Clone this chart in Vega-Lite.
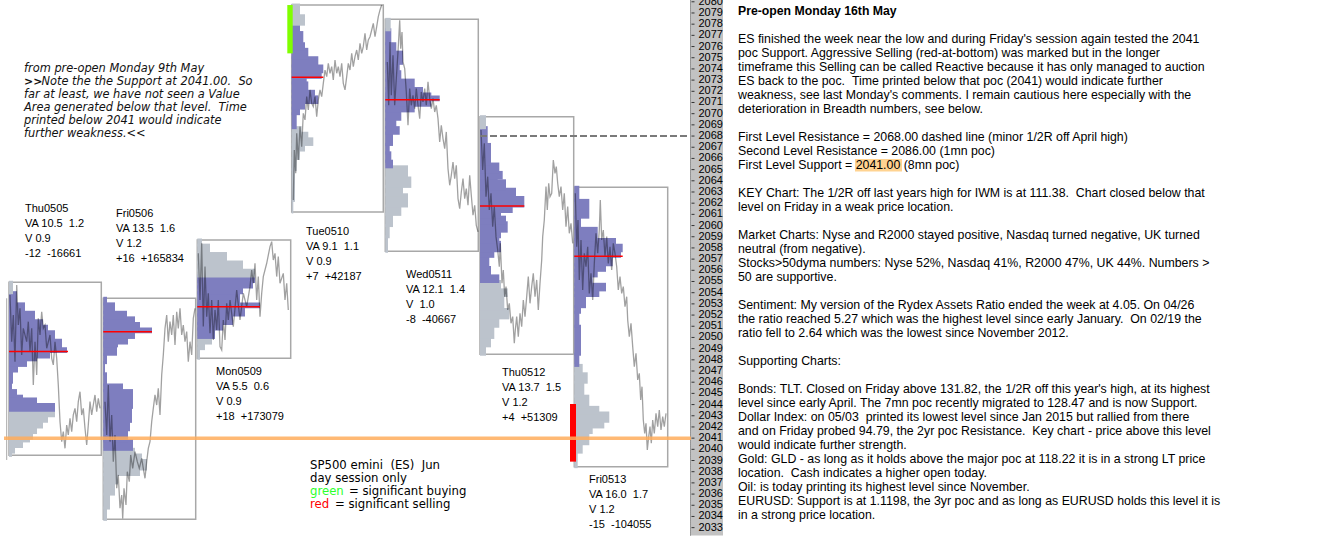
{
"$schema":"https://vega.github.io/schema/vega-lite/v6.json",
"width":1318,"height":547,
"autosize":{"type":"none"},
"padding":0,
"background":"white",
"config":{"view":{"stroke":null},"axis":{"disable":true}},
"datasets":{
"days":[
{"d":"Thu0505","x0":9,"x1":101.3,"lo":2039.46,"hi":2054.93,"poc":2048.75,"pocx":68},
{"d":"Fri0506","x0":103.3,"x1":195.7,"lo":2033.74,"hi":2053.5,"poc":2050.5,"pocx":152},
{"d":"Mon0509","x0":197.3,"x1":290.7,"lo":2048.14,"hi":2058.71,"poc":2052.75,"pocx":260},
{"d":"Tue0510","x0":291.7,"x1":383.3,"lo":2061.21,"hi":2079.71,"poc":2073.25,"pocx":323.3},
{"d":"Wed0511","x0":385.3,"x1":478.3,"lo":2057.7,"hi":2078.43,"poc":2071.25,"pocx":439.7},
{"d":"Thu0512","x0":480,"x1":573.7,"lo":2048.5,"hi":2069.73,"poc":2061.75,"pocx":524.3},
{"d":"Fri0513","x0":574.3,"x1":667.7,"lo":2038.45,"hi":2063.42,"poc":2057.25,"pocx":622.7}
],
"prof":[
{"va":"out","x0":9,"lo":2039.46,"hi":2039.75,"x1":12},{"va":"out","x0":9,"lo":2039.75,"hi":2040.25,"x1":15},{"va":"out","x0":9,"lo":2040.25,"hi":2040.75,"x1":23},{"va":"out","x0":9,"lo":2040.75,"hi":2041.0,"x1":30},{"va":"out","x0":9,"lo":2041.0,"hi":2041.5,"x1":33},{"va":"out","x0":9,"lo":2041.5,"hi":2042.0,"x1":37},{"va":"out","x0":9,"lo":2042.0,"hi":2042.5,"x1":43},{"va":"out","x0":9,"lo":2042.5,"hi":2043.0,"x1":48},{"va":"out","x0":9,"lo":2043.0,"hi":2043.5,"x1":55},
{"va":"in","x0":9,"lo":2043.5,"hi":2044.0,"x1":55},{"va":"in","x0":9,"lo":2044.0,"hi":2044.5,"x1":37},{"va":"in","x0":9,"lo":2044.5,"hi":2044.75,"x1":23},{"va":"in","x0":9,"lo":2044.75,"hi":2045.25,"x1":17},{"va":"in","x0":9,"lo":2045.25,"hi":2046.0,"x1":12},{"va":"in","x0":9,"lo":2046.0,"hi":2047.0,"x1":13},{"va":"in","x0":9,"lo":2047.0,"hi":2047.5,"x1":18},{"va":"in","x0":9,"lo":2047.5,"hi":2048.0,"x1":27},{"va":"in","x0":9,"lo":2048.0,"hi":2048.25,"x1":37},{"va":"in","x0":9,"lo":2048.25,"hi":2048.75,"x1":50},{"va":"in","x0":9,"lo":2048.75,"hi":2049.0,"x1":67},{"va":"in","x0":9,"lo":2049.0,"hi":2049.75,"x1":62},{"va":"in","x0":9,"lo":2049.75,"hi":2050.5,"x1":55},{"va":"in","x0":9,"lo":2050.5,"hi":2051.0,"x1":48},{"va":"in","x0":9,"lo":2051.0,"hi":2051.5,"x1":43},{"va":"in","x0":9,"lo":2051.5,"hi":2052.25,"x1":35},{"va":"in","x0":9,"lo":2052.25,"hi":2053.0,"x1":25},{"va":"in","x0":9,"lo":2053.0,"hi":2054.0,"x1":17},
{"va":"out","x0":9,"lo":2054.0,"hi":2054.93,"x1":13},
{"va":"out","x0":103.3,"lo":2033.74,"hi":2034.75,"x1":107},{"va":"out","x0":103.3,"lo":2034.75,"hi":2036.0,"x1":110},{"va":"out","x0":103.3,"lo":2036.0,"hi":2037.0,"x1":115},{"va":"out","x0":103.3,"lo":2037.0,"hi":2037.75,"x1":118},{"va":"out","x0":103.3,"lo":2037.75,"hi":2038.25,"x1":140},{"va":"out","x0":103.3,"lo":2038.25,"hi":2039.0,"x1":147},{"va":"out","x0":103.3,"lo":2039.0,"hi":2039.5,"x1":142},{"va":"out","x0":103.3,"lo":2039.5,"hi":2040.0,"x1":135},
{"va":"in","x0":103.3,"lo":2040.0,"hi":2040.75,"x1":133},{"va":"in","x0":103.3,"lo":2040.75,"hi":2041.75,"x1":128},{"va":"in","x0":103.3,"lo":2041.75,"hi":2042.5,"x1":130},{"va":"in","x0":103.3,"lo":2042.5,"hi":2043.75,"x1":132},{"va":"in","x0":103.3,"lo":2043.75,"hi":2045.25,"x1":133},{"va":"in","x0":103.3,"lo":2045.25,"hi":2045.75,"x1":123},{"va":"in","x0":103.3,"lo":2045.75,"hi":2046.75,"x1":107},{"va":"in","x0":103.3,"lo":2046.75,"hi":2047.75,"x1":105},{"va":"in","x0":103.3,"lo":2047.75,"hi":2048.5,"x1":107},{"va":"in","x0":103.3,"lo":2048.5,"hi":2049.25,"x1":117},{"va":"in","x0":103.3,"lo":2049.25,"hi":2049.5,"x1":118},{"va":"in","x0":103.3,"lo":2049.5,"hi":2050.0,"x1":128},{"va":"in","x0":103.3,"lo":2050.0,"hi":2050.5,"x1":135},{"va":"in","x0":103.3,"lo":2050.5,"hi":2050.75,"x1":152},{"va":"in","x0":103.3,"lo":2050.75,"hi":2051.25,"x1":140},{"va":"in","x0":103.3,"lo":2051.25,"hi":2051.75,"x1":135},{"va":"in","x0":103.3,"lo":2051.75,"hi":2052.25,"x1":127},{"va":"in","x0":103.3,"lo":2052.25,"hi":2053.0,"x1":115},{"va":"in","x0":103.3,"lo":2053.0,"hi":2053.5,"x1":107},
{"va":"out","x0":197.3,"lo":2048.14,"hi":2049.0,"x1":200},{"va":"out","x0":197.3,"lo":2049.0,"hi":2049.5,"x1":205},{"va":"out","x0":197.3,"lo":2049.5,"hi":2050.0,"x1":212},
{"va":"in","x0":197.3,"lo":2050.0,"hi":2050.75,"x1":215},{"va":"in","x0":197.3,"lo":2050.75,"hi":2051.25,"x1":223},{"va":"in","x0":197.3,"lo":2051.25,"hi":2052.0,"x1":233},{"va":"in","x0":197.3,"lo":2052.0,"hi":2052.75,"x1":245},{"va":"in","x0":197.3,"lo":2052.75,"hi":2053.0,"x1":260},{"va":"in","x0":197.3,"lo":2053.0,"hi":2054.0,"x1":240},{"va":"in","x0":197.3,"lo":2054.0,"hi":2054.5,"x1":243},{"va":"in","x0":197.3,"lo":2054.5,"hi":2055.0,"x1":253},{"va":"in","x0":197.3,"lo":2055.0,"hi":2055.5,"x1":255},
{"va":"out","x0":197.3,"lo":2055.5,"hi":2056.0,"x1":255},{"va":"out","x0":197.3,"lo":2056.0,"hi":2056.75,"x1":243},{"va":"out","x0":197.3,"lo":2056.75,"hi":2057.5,"x1":227},{"va":"out","x0":197.3,"lo":2057.5,"hi":2058.25,"x1":210},{"va":"out","x0":197.3,"lo":2058.25,"hi":2058.71,"x1":202},
{"va":"out","x0":291.7,"lo":2061.21,"hi":2062.25,"x1":293.3},{"va":"out","x0":291.7,"lo":2062.25,"hi":2065.0,"x1":295},{"va":"out","x0":291.7,"lo":2065.0,"hi":2066.0,"x1":296.7},{"va":"out","x0":291.7,"lo":2066.0,"hi":2066.75,"x1":300},{"va":"out","x0":291.7,"lo":2066.75,"hi":2067.25,"x1":305},{"va":"out","x0":291.7,"lo":2067.25,"hi":2067.75,"x1":313.3},{"va":"out","x0":291.7,"lo":2067.75,"hi":2068.25,"x1":308.3},{"va":"out","x0":291.7,"lo":2068.25,"hi":2068.75,"x1":301.7},
{"va":"in","x0":291.7,"lo":2068.75,"hi":2070.0,"x1":296.7},{"va":"in","x0":291.7,"lo":2070.0,"hi":2070.5,"x1":300},{"va":"in","x0":291.7,"lo":2070.5,"hi":2071.0,"x1":305},{"va":"in","x0":291.7,"lo":2071.0,"hi":2071.5,"x1":318.3},{"va":"in","x0":291.7,"lo":2071.5,"hi":2072.0,"x1":315},{"va":"in","x0":291.7,"lo":2072.0,"hi":2072.75,"x1":308.3},{"va":"in","x0":291.7,"lo":2072.75,"hi":2073.25,"x1":306.7},{"va":"in","x0":291.7,"lo":2073.25,"hi":2073.75,"x1":321.7},{"va":"in","x0":291.7,"lo":2073.75,"hi":2074.25,"x1":323.3},{"va":"in","x0":291.7,"lo":2074.25,"hi":2075.0,"x1":318.3},{"va":"in","x0":291.7,"lo":2075.0,"hi":2075.75,"x1":308.3},{"va":"in","x0":291.7,"lo":2075.75,"hi":2076.25,"x1":305},{"va":"in","x0":291.7,"lo":2076.25,"hi":2077.25,"x1":303.3},{"va":"in","x0":291.7,"lo":2077.25,"hi":2078.0,"x1":300},
{"va":"out","x0":291.7,"lo":2078.0,"hi":2078.75,"x1":305},{"va":"out","x0":291.7,"lo":2078.75,"hi":2079.71,"x1":300},
{"va":"out","x0":385.3,"lo":2057.7,"hi":2059.0,"x1":388},{"va":"out","x0":385.3,"lo":2059.0,"hi":2060.0,"x1":389.7},{"va":"out","x0":385.3,"lo":2060.0,"hi":2061.0,"x1":393},{"va":"out","x0":385.3,"lo":2061.0,"hi":2061.75,"x1":401.3},{"va":"out","x0":385.3,"lo":2061.75,"hi":2062.75,"x1":408},{"va":"out","x0":385.3,"lo":2062.75,"hi":2063.5,"x1":403},{"va":"out","x0":385.3,"lo":2063.5,"hi":2064.25,"x1":411.3},{"va":"out","x0":385.3,"lo":2064.25,"hi":2065.25,"x1":408},
{"va":"in","x0":385.3,"lo":2065.25,"hi":2065.75,"x1":393},{"va":"in","x0":385.3,"lo":2065.75,"hi":2066.5,"x1":391.3},{"va":"in","x0":385.3,"lo":2066.5,"hi":2067.25,"x1":389.7},{"va":"in","x0":385.3,"lo":2067.25,"hi":2068.25,"x1":393},{"va":"in","x0":385.3,"lo":2068.25,"hi":2068.75,"x1":399.7},{"va":"in","x0":385.3,"lo":2068.75,"hi":2069.5,"x1":396.3},{"va":"in","x0":385.3,"lo":2069.5,"hi":2070.25,"x1":401.3},{"va":"in","x0":385.3,"lo":2070.25,"hi":2070.75,"x1":414.7},{"va":"in","x0":385.3,"lo":2070.75,"hi":2071.25,"x1":431.3},{"va":"in","x0":385.3,"lo":2071.25,"hi":2071.5,"x1":439.7},{"va":"in","x0":385.3,"lo":2071.5,"hi":2071.75,"x1":431.3},{"va":"in","x0":385.3,"lo":2071.75,"hi":2072.25,"x1":423},{"va":"in","x0":385.3,"lo":2072.25,"hi":2073.0,"x1":414.7},{"va":"in","x0":385.3,"lo":2073.0,"hi":2073.75,"x1":401.3},{"va":"in","x0":385.3,"lo":2073.75,"hi":2074.5,"x1":399.7},{"va":"in","x0":385.3,"lo":2074.5,"hi":2075.5,"x1":403},{"va":"in","x0":385.3,"lo":2075.5,"hi":2076.25,"x1":396.3},{"va":"in","x0":385.3,"lo":2076.25,"hi":2077.5,"x1":391.3},
{"va":"out","x0":385.3,"lo":2077.5,"hi":2078.43,"x1":390.7},
{"va":"out","x0":480,"lo":2048.5,"hi":2049.25,"x1":486},{"va":"out","x0":480,"lo":2049.25,"hi":2050.0,"x1":491},{"va":"out","x0":480,"lo":2050.0,"hi":2051.0,"x1":494.3},{"va":"out","x0":480,"lo":2051.0,"hi":2051.75,"x1":499.3},{"va":"out","x0":480,"lo":2051.75,"hi":2052.5,"x1":509.3},{"va":"out","x0":480,"lo":2052.5,"hi":2053.75,"x1":504.3},{"va":"out","x0":480,"lo":2053.75,"hi":2054.25,"x1":507.7},{"va":"out","x0":480,"lo":2054.25,"hi":2055.0,"x1":501},
{"va":"in","x0":480,"lo":2055.0,"hi":2055.5,"x1":499.3},{"va":"in","x0":480,"lo":2055.5,"hi":2056.25,"x1":491},{"va":"in","x0":480,"lo":2056.25,"hi":2057.25,"x1":489.3},{"va":"in","x0":480,"lo":2057.25,"hi":2057.75,"x1":494.3},{"va":"in","x0":480,"lo":2057.75,"hi":2058.5,"x1":501},{"va":"in","x0":480,"lo":2058.5,"hi":2059.0,"x1":499.3},{"va":"in","x0":480,"lo":2059.0,"hi":2059.5,"x1":501},{"va":"in","x0":480,"lo":2059.5,"hi":2060.25,"x1":507.7},{"va":"in","x0":480,"lo":2060.25,"hi":2060.75,"x1":506},{"va":"in","x0":480,"lo":2060.75,"hi":2061.25,"x1":501},{"va":"in","x0":480,"lo":2061.25,"hi":2061.75,"x1":512.7},{"va":"in","x0":480,"lo":2061.75,"hi":2062.5,"x1":524.3},{"va":"in","x0":480,"lo":2062.5,"hi":2063.25,"x1":516},{"va":"in","x0":480,"lo":2063.25,"hi":2064.0,"x1":506},{"va":"in","x0":480,"lo":2064.0,"hi":2064.25,"x1":497.7},{"va":"in","x0":480,"lo":2064.25,"hi":2064.75,"x1":502.7},{"va":"in","x0":480,"lo":2064.75,"hi":2065.5,"x1":499.3},{"va":"in","x0":480,"lo":2065.5,"hi":2067.25,"x1":491},{"va":"in","x0":480,"lo":2067.25,"hi":2068.75,"x1":487.7},
{"va":"out","x0":480,"lo":2068.75,"hi":2069.73,"x1":486},
{"va":"out","x0":574.3,"lo":2038.45,"hi":2039.75,"x1":577.7},{"va":"out","x0":574.3,"lo":2039.75,"hi":2040.5,"x1":582.7},{"va":"out","x0":574.3,"lo":2040.5,"hi":2041.5,"x1":589.3},{"va":"out","x0":574.3,"lo":2041.5,"hi":2042.0,"x1":592.7},{"va":"out","x0":574.3,"lo":2042.0,"hi":2042.5,"x1":604.3},{"va":"out","x0":574.3,"lo":2042.5,"hi":2043.25,"x1":609.3},{"va":"out","x0":574.3,"lo":2043.25,"hi":2043.75,"x1":599.3},{"va":"out","x0":574.3,"lo":2043.75,"hi":2044.75,"x1":589.3},{"va":"out","x0":574.3,"lo":2044.75,"hi":2046.0,"x1":584.3},{"va":"out","x0":574.3,"lo":2046.0,"hi":2046.75,"x1":587.7},{"va":"out","x0":574.3,"lo":2046.75,"hi":2047.5,"x1":582.7},
{"va":"in","x0":574.3,"lo":2047.5,"hi":2048.5,"x1":579.3},{"va":"in","x0":574.3,"lo":2048.5,"hi":2051.0,"x1":581},{"va":"in","x0":574.3,"lo":2051.0,"hi":2052.25,"x1":579.3},{"va":"in","x0":574.3,"lo":2052.25,"hi":2052.75,"x1":581},{"va":"in","x0":574.3,"lo":2052.75,"hi":2053.75,"x1":586},{"va":"in","x0":574.3,"lo":2053.75,"hi":2054.25,"x1":599.3},{"va":"in","x0":574.3,"lo":2054.25,"hi":2054.75,"x1":606},{"va":"in","x0":574.3,"lo":2054.75,"hi":2055.5,"x1":592.7},{"va":"in","x0":574.3,"lo":2055.5,"hi":2056.0,"x1":597.7},{"va":"in","x0":574.3,"lo":2056.0,"hi":2056.5,"x1":606},{"va":"in","x0":574.3,"lo":2056.5,"hi":2057.25,"x1":612.7},{"va":"in","x0":574.3,"lo":2057.25,"hi":2057.75,"x1":621},{"va":"in","x0":574.3,"lo":2057.75,"hi":2058.25,"x1":622.7},{"va":"in","x0":574.3,"lo":2058.25,"hi":2058.75,"x1":616},{"va":"in","x0":574.3,"lo":2058.75,"hi":2059.75,"x1":597.7},{"va":"in","x0":574.3,"lo":2059.75,"hi":2060.75,"x1":581},{"va":"in","x0":574.3,"lo":2060.75,"hi":2062.25,"x1":589.3},{"va":"in","x0":574.3,"lo":2062.25,"hi":2063.42,"x1":579.3}
],
"trace":[
{"d":"Thu0505","x":10,"p":2053.79},{"d":"Thu0505","x":11.7,"p":2049.62},{"d":"Thu0505","x":13.3,"p":2052.0},{"d":"Thu0505","x":15,"p":2047.83},{"d":"Thu0505","x":16.7,"p":2054.69},{"d":"Thu0505","x":18.3,"p":2051.11},{"d":"Thu0505","x":20,"p":2052.6},{"d":"Thu0505","x":21.7,"p":2048.43},{"d":"Thu0505","x":23.3,"p":2050.81},{"d":"Thu0505","x":26.7,"p":2049.62},{"d":"Thu0505","x":28.3,"p":2051.41},{"d":"Thu0505","x":30,"p":2048.73},{"d":"Thu0505","x":31.7,"p":2050.81},{"d":"Thu0505","x":33.3,"p":2045.75},{"d":"Thu0505","x":35,"p":2049.62},{"d":"Thu0505","x":36.7,"p":2046.64},{"d":"Thu0505","x":38.3,"p":2051.71},{"d":"Thu0505","x":40,"p":2050.22},{"d":"Thu0505","x":41.7,"p":2052.3},{"d":"Thu0505","x":43.3,"p":2050.81},{"d":"Thu0505","x":45,"p":2051.11},{"d":"Thu0505","x":46.7,"p":2049.03},{"d":"Thu0505","x":50,"p":2050.22},{"d":"Thu0505","x":51.7,"p":2048.13},{"d":"Thu0505","x":53.3,"p":2047.54},{"d":"Thu0505","x":55,"p":2049.62},{"d":"Thu0505","x":56.7,"p":2048.13},{"d":"Thu0505","x":58.3,"p":2045.75},{"d":"Thu0505","x":60,"p":2042.47},{"d":"Thu0505","x":61.7,"p":2040.69},{"d":"Thu0505","x":63.3,"p":2041.58},{"d":"Thu0505","x":65,"p":2040.09},{"d":"Thu0505","x":66.7,"p":2042.17},{"d":"Thu0505","x":68.3,"p":2041.28},{"d":"Thu0505","x":70,"p":2042.77},{"d":"Thu0505","x":71.7,"p":2041.58},{"d":"Thu0505","x":73.3,"p":2043.07},{"d":"Thu0505","x":75,"p":2043.66},{"d":"Thu0505","x":76.7,"p":2042.47},{"d":"Thu0505","x":78.3,"p":2044.26},{"d":"Thu0505","x":80,"p":2045.15},{"d":"Thu0505","x":81.7,"p":2043.07},{"d":"Thu0505","x":83.3,"p":2043.66},{"d":"Thu0505","x":85,"p":2041.88},{"d":"Thu0505","x":86.7,"p":2040.39},{"d":"Thu0505","x":88.3,"p":2042.17},{"d":"Thu0505","x":90,"p":2044.26},{"d":"Thu0505","x":91.7,"p":2043.07},{"d":"Thu0505","x":93.3,"p":2043.96},{"d":"Thu0505","x":95,"p":2044.86},{"d":"Thu0505","x":96.7,"p":2043.37},{"d":"Thu0505","x":98.3,"p":2044.56},{"d":"Thu0505","x":100,"p":2043.66},
{"d":"Fri0506","x":105,"p":2044.26},{"d":"Fri0506","x":106.7,"p":2041.28},{"d":"Fri0506","x":108.3,"p":2045.75},{"d":"Fri0506","x":110,"p":2040.69},{"d":"Fri0506","x":111.7,"p":2043.07},{"d":"Fri0506","x":113.3,"p":2038.9},{"d":"Fri0506","x":115,"p":2041.28},{"d":"Fri0506","x":116.7,"p":2036.52},{"d":"Fri0506","x":118.3,"p":2037.71},{"d":"Fri0506","x":120,"p":2034.73},{"d":"Fri0506","x":121.7,"p":2035.92},{"d":"Fri0506","x":122.7,"p":2033.83},{"d":"Fri0506","x":124,"p":2036.52},{"d":"Fri0506","x":126,"p":2035.03},{"d":"Fri0506","x":127.3,"p":2038.0},{"d":"Fri0506","x":129.3,"p":2037.11},{"d":"Fri0506","x":130.7,"p":2039.5},{"d":"Fri0506","x":132.7,"p":2038.3},{"d":"Fri0506","x":135,"p":2039.79},{"d":"Fri0506","x":137.3,"p":2038.9},{"d":"Fri0506","x":139.3,"p":2038.3},{"d":"Fri0506","x":141.7,"p":2039.2},{"d":"Fri0506","x":143.3,"p":2038.3},{"d":"Fri0506","x":145,"p":2037.41},{"d":"Fri0506","x":146.7,"p":2038.9},{"d":"Fri0506","x":148.3,"p":2040.09},{"d":"Fri0506","x":150,"p":2040.69},{"d":"Fri0506","x":151.7,"p":2042.47},{"d":"Fri0506","x":153.3,"p":2043.66},{"d":"Fri0506","x":155,"p":2044.86},{"d":"Fri0506","x":156.7,"p":2043.96},{"d":"Fri0506","x":158.3,"p":2045.45},{"d":"Fri0506","x":160,"p":2043.07},{"d":"Fri0506","x":161.7,"p":2046.64},{"d":"Fri0506","x":163.3,"p":2048.43},{"d":"Fri0506","x":165,"p":2050.81},{"d":"Fri0506","x":166.7,"p":2052.0},{"d":"Fri0506","x":168.3,"p":2049.62},{"d":"Fri0506","x":170,"p":2051.41},{"d":"Fri0506","x":171.7,"p":2050.22},{"d":"Fri0506","x":173.3,"p":2052.0},{"d":"Fri0506","x":175,"p":2049.32},{"d":"Fri0506","x":176.7,"p":2052.3},{"d":"Fri0506","x":178.3,"p":2050.81},{"d":"Fri0506","x":180,"p":2052.6},{"d":"Fri0506","x":181.7,"p":2050.22},{"d":"Fri0506","x":183.3,"p":2051.11},{"d":"Fri0506","x":185,"p":2049.62},{"d":"Fri0506","x":186.7,"p":2050.52},{"d":"Fri0506","x":188.3,"p":2047.83},{"d":"Fri0506","x":190,"p":2049.62},{"d":"Fri0506","x":191.7,"p":2048.43},{"d":"Fri0506","x":193.3,"p":2051.71},{"d":"Fri0506","x":195,"p":2052.6},
{"d":"Mon0509","x":198.3,"p":2057.52},{"d":"Mon0509","x":200,"p":2053.35},{"d":"Mon0509","x":201.7,"p":2058.41},{"d":"Mon0509","x":203.3,"p":2050.97},{"d":"Mon0509","x":205,"p":2056.33},{"d":"Mon0509","x":206.7,"p":2051.86},{"d":"Mon0509","x":208.3,"p":2053.95},{"d":"Mon0509","x":210,"p":2050.37},{"d":"Mon0509","x":211.7,"p":2053.35},{"d":"Mon0509","x":213.3,"p":2049.78},{"d":"Mon0509","x":215,"p":2052.46},{"d":"Mon0509","x":216.7,"p":2050.67},{"d":"Mon0509","x":218.3,"p":2053.35},{"d":"Mon0509","x":220,"p":2049.18},{"d":"Mon0509","x":221.7,"p":2048.88},{"d":"Mon0509","x":223.3,"p":2051.56},{"d":"Mon0509","x":225,"p":2049.78},{"d":"Mon0509","x":226.7,"p":2053.05},{"d":"Mon0509","x":228.3,"p":2051.56},{"d":"Mon0509","x":230,"p":2053.35},{"d":"Mon0509","x":233.3,"p":2050.97},{"d":"Mon0509","x":236.7,"p":2054.24},{"d":"Mon0509","x":240,"p":2051.56},{"d":"Mon0509","x":243.3,"p":2053.95},{"d":"Mon0509","x":246.7,"p":2052.75},{"d":"Mon0509","x":250,"p":2054.54},{"d":"Mon0509","x":251.7,"p":2056.03},{"d":"Mon0509","x":253.3,"p":2054.84},{"d":"Mon0509","x":255,"p":2056.63},{"d":"Mon0509","x":256.7,"p":2053.35},{"d":"Mon0509","x":258.3,"p":2055.44},{"d":"Mon0509","x":260,"p":2051.86},{"d":"Mon0509","x":261.7,"p":2053.95},{"d":"Mon0509","x":263.3,"p":2055.44},{"d":"Mon0509","x":266.7,"p":2056.63},{"d":"Mon0509","x":270,"p":2058.12},{"d":"Mon0509","x":271.7,"p":2058.56},{"d":"Mon0509","x":273.3,"p":2056.92},{"d":"Mon0509","x":275,"p":2057.52},{"d":"Mon0509","x":276.7,"p":2055.44},{"d":"Mon0509","x":278.3,"p":2057.22},{"d":"Mon0509","x":280,"p":2054.84},{"d":"Mon0509","x":283.3,"p":2055.73},{"d":"Mon0509","x":285,"p":2053.35},{"d":"Mon0509","x":286.7,"p":2054.84},{"d":"Mon0509","x":288.3,"p":2052.46},
{"d":"Tue0510","x":293.3,"p":2062.29},{"d":"Tue0510","x":294.3,"p":2066.75},{"d":"Tue0510","x":295.7,"p":2064.67},{"d":"Tue0510","x":296.7,"p":2068.24},{"d":"Tue0510","x":298.3,"p":2065.86},{"d":"Tue0510","x":300,"p":2068.84},{"d":"Tue0510","x":301.7,"p":2067.05},{"d":"Tue0510","x":303.3,"p":2070.03},{"d":"Tue0510","x":305,"p":2069.44},{"d":"Tue0510","x":306.7,"p":2071.52},{"d":"Tue0510","x":308.3,"p":2070.33},{"d":"Tue0510","x":310,"p":2072.12},{"d":"Tue0510","x":311.7,"p":2070.93},{"d":"Tue0510","x":313.3,"p":2070.63},{"d":"Tue0510","x":315,"p":2071.52},{"d":"Tue0510","x":316.7,"p":2069.73},{"d":"Tue0510","x":318.3,"p":2071.22},{"d":"Tue0510","x":320,"p":2072.12},{"d":"Tue0510","x":321.7,"p":2071.52},{"d":"Tue0510","x":323.3,"p":2072.71},{"d":"Tue0510","x":325,"p":2073.9},{"d":"Tue0510","x":326.7,"p":2073.31},{"d":"Tue0510","x":328.3,"p":2074.5},{"d":"Tue0510","x":330,"p":2073.61},{"d":"Tue0510","x":331.7,"p":2074.2},{"d":"Tue0510","x":333.3,"p":2073.01},{"d":"Tue0510","x":335,"p":2074.8},{"d":"Tue0510","x":336.7,"p":2073.61},{"d":"Tue0510","x":338.3,"p":2074.2},{"d":"Tue0510","x":340,"p":2073.31},{"d":"Tue0510","x":341.7,"p":2074.5},{"d":"Tue0510","x":343.3,"p":2072.71},{"d":"Tue0510","x":345,"p":2072.12},{"d":"Tue0510","x":346.7,"p":2073.31},{"d":"Tue0510","x":348.3,"p":2074.5},{"d":"Tue0510","x":350,"p":2073.9},{"d":"Tue0510","x":351.7,"p":2075.39},{"d":"Tue0510","x":353.3,"p":2074.2},{"d":"Tue0510","x":355,"p":2075.1},{"d":"Tue0510","x":356.7,"p":2075.69},{"d":"Tue0510","x":358.3,"p":2074.8},{"d":"Tue0510","x":360,"p":2076.29},{"d":"Tue0510","x":361.7,"p":2075.39},{"d":"Tue0510","x":363.3,"p":2075.99},{"d":"Tue0510","x":365,"p":2077.18},{"d":"Tue0510","x":366.7,"p":2075.69},{"d":"Tue0510","x":368.3,"p":2076.59},{"d":"Tue0510","x":370,"p":2076.88},{"d":"Tue0510","x":371.7,"p":2077.48},{"d":"Tue0510","x":373.3,"p":2078.07},{"d":"Tue0510","x":375,"p":2076.88},{"d":"Tue0510","x":376.7,"p":2077.78},{"d":"Tue0510","x":378.3,"p":2078.67},{"d":"Tue0510","x":380,"p":2079.27},{"d":"Tue0510","x":381.7,"p":2079.71},
{"d":"Wed0511","x":387.3,"p":2074.62},{"d":"Wed0511","x":388.7,"p":2070.75},{"d":"Wed0511","x":390,"p":2076.41},{"d":"Wed0511","x":391.3,"p":2071.64},{"d":"Wed0511","x":393,"p":2075.22},{"d":"Wed0511","x":394.7,"p":2070.75},{"d":"Wed0511","x":396.3,"p":2073.13},{"d":"Wed0511","x":398,"p":2075.52},{"d":"Wed0511","x":399.7,"p":2078.35},{"d":"Wed0511","x":400.7,"p":2075.81},{"d":"Wed0511","x":402,"p":2077.3},{"d":"Wed0511","x":403,"p":2074.62},{"d":"Wed0511","x":404.7,"p":2074.03},{"d":"Wed0511","x":406.3,"p":2071.94},{"d":"Wed0511","x":408,"p":2068.96},{"d":"Wed0511","x":409.7,"p":2072.24},{"d":"Wed0511","x":411.3,"p":2070.75},{"d":"Wed0511","x":413,"p":2071.64},{"d":"Wed0511","x":414.7,"p":2070.45},{"d":"Wed0511","x":416.3,"p":2072.24},{"d":"Wed0511","x":418,"p":2070.75},{"d":"Wed0511","x":419.7,"p":2069.56},{"d":"Wed0511","x":421.3,"p":2071.94},{"d":"Wed0511","x":423,"p":2071.05},{"d":"Wed0511","x":424.7,"p":2072.24},{"d":"Wed0511","x":426.3,"p":2070.75},{"d":"Wed0511","x":428,"p":2072.84},{"d":"Wed0511","x":429.7,"p":2071.34},{"d":"Wed0511","x":431.3,"p":2070.45},{"d":"Wed0511","x":433,"p":2071.34},{"d":"Wed0511","x":434.7,"p":2070.15},{"d":"Wed0511","x":436.3,"p":2070.75},{"d":"Wed0511","x":438,"p":2069.56},{"d":"Wed0511","x":439.7,"p":2067.47},{"d":"Wed0511","x":441.3,"p":2068.96},{"d":"Wed0511","x":443,"p":2067.77},{"d":"Wed0511","x":444.7,"p":2066.88},{"d":"Wed0511","x":446.3,"p":2068.37},{"d":"Wed0511","x":448,"p":2065.09},{"d":"Wed0511","x":449.7,"p":2063.6},{"d":"Wed0511","x":451.3,"p":2064.49},{"d":"Wed0511","x":453,"p":2065.68},{"d":"Wed0511","x":454.7,"p":2064.2},{"d":"Wed0511","x":456.3,"p":2065.39},{"d":"Wed0511","x":458,"p":2062.41},{"d":"Wed0511","x":459.7,"p":2061.51},{"d":"Wed0511","x":461.3,"p":2063.0},{"d":"Wed0511","x":463,"p":2064.2},{"d":"Wed0511","x":464.7,"p":2062.41},{"d":"Wed0511","x":466.3,"p":2063.3},{"d":"Wed0511","x":468,"p":2061.81},{"d":"Wed0511","x":469.7,"p":2064.49},{"d":"Wed0511","x":471.3,"p":2062.71},{"d":"Wed0511","x":473,"p":2060.92},{"d":"Wed0511","x":474.7,"p":2061.81},{"d":"Wed0511","x":476.3,"p":2060.02},{"d":"Wed0511","x":478,"p":2059.43},
{"d":"Thu0512","x":481,"p":2068.54},{"d":"Thu0512","x":482.7,"p":2064.97},{"d":"Thu0512","x":484.3,"p":2067.35},{"d":"Thu0512","x":486,"p":2062.58},{"d":"Thu0512","x":487.7,"p":2064.37},{"d":"Thu0512","x":489.3,"p":2061.39},{"d":"Thu0512","x":491,"p":2062.88},{"d":"Thu0512","x":492.7,"p":2059.9},{"d":"Thu0512","x":494.3,"p":2061.69},{"d":"Thu0512","x":496,"p":2059.01},{"d":"Thu0512","x":497.7,"p":2057.82},{"d":"Thu0512","x":499.3,"p":2056.33},{"d":"Thu0512","x":500.3,"p":2058.41},{"d":"Thu0512","x":502,"p":2054.84},{"d":"Thu0512","x":503.3,"p":2056.03},{"d":"Thu0512","x":504.7,"p":2053.65},{"d":"Thu0512","x":506,"p":2054.54},{"d":"Thu0512","x":507.7,"p":2052.46},{"d":"Thu0512","x":509.3,"p":2053.05},{"d":"Thu0512","x":511,"p":2051.27},{"d":"Thu0512","x":512.7,"p":2051.86},{"d":"Thu0512","x":514.3,"p":2049.48},{"d":"Thu0512","x":515.3,"p":2050.67},{"d":"Thu0512","x":516.7,"p":2051.86},{"d":"Thu0512","x":518.3,"p":2050.07},{"d":"Thu0512","x":520,"p":2052.16},{"d":"Thu0512","x":521.7,"p":2050.97},{"d":"Thu0512","x":523.3,"p":2053.35},{"d":"Thu0512","x":525,"p":2051.86},{"d":"Thu0512","x":526.7,"p":2053.65},{"d":"Thu0512","x":528.3,"p":2055.44},{"d":"Thu0512","x":530,"p":2053.05},{"d":"Thu0512","x":531.7,"p":2054.54},{"d":"Thu0512","x":533.3,"p":2055.73},{"d":"Thu0512","x":535,"p":2053.65},{"d":"Thu0512","x":536.7,"p":2055.14},{"d":"Thu0512","x":538.3,"p":2052.46},{"d":"Thu0512","x":540,"p":2054.84},{"d":"Thu0512","x":541.7,"p":2056.92},{"d":"Thu0512","x":542.7,"p":2059.01},{"d":"Thu0512","x":544.3,"p":2060.5},{"d":"Thu0512","x":546,"p":2063.48},{"d":"Thu0512","x":547.3,"p":2061.39},{"d":"Thu0512","x":548.7,"p":2063.78},{"d":"Thu0512","x":550,"p":2062.58},{"d":"Thu0512","x":551.7,"p":2062.88},{"d":"Thu0512","x":553.3,"p":2065.86},{"d":"Thu0512","x":555,"p":2064.67},{"d":"Thu0512","x":556.3,"p":2065.27},{"d":"Thu0512","x":557.7,"p":2063.78},{"d":"Thu0512","x":559.3,"p":2062.58},{"d":"Thu0512","x":561,"p":2063.48},{"d":"Thu0512","x":562.7,"p":2061.39},{"d":"Thu0512","x":564.3,"p":2062.88},{"d":"Thu0512","x":566,"p":2059.9},{"d":"Thu0512","x":567.7,"p":2061.69},{"d":"Thu0512","x":569.3,"p":2059.31},{"d":"Thu0512","x":571,"p":2060.2},{"d":"Thu0512","x":572.7,"p":2058.41},
{"d":"Fri0513","x":575.3,"p":2062.88},{"d":"Fri0513","x":576.7,"p":2058.11},{"d":"Fri0513","x":578,"p":2060.5},{"d":"Fri0513","x":579.3,"p":2055.13},{"d":"Fri0513","x":581,"p":2058.71},{"d":"Fri0513","x":582.7,"p":2054.24},{"d":"Fri0513","x":584.3,"p":2057.52},{"d":"Fri0513","x":586,"p":2056.32},{"d":"Fri0513","x":587.7,"p":2058.11},{"d":"Fri0513","x":589.3,"p":2053.94},{"d":"Fri0513","x":591,"p":2055.73},{"d":"Fri0513","x":592.7,"p":2053.35},{"d":"Fri0513","x":594.3,"p":2056.62},{"d":"Fri0513","x":596,"p":2059.3},{"d":"Fri0513","x":597.7,"p":2057.52},{"d":"Fri0513","x":599.3,"p":2059.6},{"d":"Fri0513","x":600.3,"p":2062.28},{"d":"Fri0513","x":601.7,"p":2058.71},{"d":"Fri0513","x":603.3,"p":2059.6},{"d":"Fri0513","x":605,"p":2057.22},{"d":"Fri0513","x":606.7,"p":2059.01},{"d":"Fri0513","x":608.3,"p":2056.62},{"d":"Fri0513","x":610,"p":2058.11},{"d":"Fri0513","x":611.7,"p":2056.03},{"d":"Fri0513","x":613.3,"p":2058.41},{"d":"Fri0513","x":615,"p":2057.52},{"d":"Fri0513","x":616.7,"p":2056.32},{"d":"Fri0513","x":618.3,"p":2054.24},{"d":"Fri0513","x":620,"p":2055.43},{"d":"Fri0513","x":621.7,"p":2053.94},{"d":"Fri0513","x":623.3,"p":2054.54},{"d":"Fri0513","x":625,"p":2052.75},{"d":"Fri0513","x":626.7,"p":2053.64},{"d":"Fri0513","x":627.7,"p":2051.56},{"d":"Fri0513","x":629.3,"p":2050.07},{"d":"Fri0513","x":631,"p":2051.26},{"d":"Fri0513","x":632.7,"p":2049.18},{"d":"Fri0513","x":634.3,"p":2047.39},{"d":"Fri0513","x":636,"p":2048.58},{"d":"Fri0513","x":637.7,"p":2046.2},{"d":"Fri0513","x":639.3,"p":2046.79},{"d":"Fri0513","x":640.7,"p":2044.41},{"d":"Fri0513","x":642,"p":2045.6},{"d":"Fri0513","x":643.3,"p":2042.62},{"d":"Fri0513","x":644.7,"p":2041.43},{"d":"Fri0513","x":646,"p":2042.33},{"d":"Fri0513","x":647.3,"p":2039.94},{"d":"Fri0513","x":648.7,"p":2041.13},{"d":"Fri0513","x":650,"p":2042.03},{"d":"Fri0513","x":651.3,"p":2040.54},{"d":"Fri0513","x":652.7,"p":2042.62},{"d":"Fri0513","x":654.3,"p":2041.43},{"d":"Fri0513","x":656,"p":2043.22},{"d":"Fri0513","x":657.7,"p":2042.03},{"d":"Fri0513","x":659.3,"p":2043.52},{"d":"Fri0513","x":661,"p":2041.73},{"d":"Fri0513","x":662.7,"p":2042.92},{"d":"Fri0513","x":664.3,"p":2042.03},{"d":"Fri0513","x":666,"p":2043.22}
],
"ticks":[{"p":2033},{"p":2034},{"p":2035},{"p":2036},{"p":2037},{"p":2038},{"p":2039},{"p":2040},{"p":2041},{"p":2042},{"p":2043},{"p":2044},{"p":2045},{"p":2046},{"p":2047},{"p":2048},{"p":2049},{"p":2050},{"p":2051},{"p":2052},{"p":2053},{"p":2054},{"p":2055},{"p":2056},{"p":2057},{"p":2058},{"p":2059},{"p":2060},{"p":2061},{"p":2062},{"p":2063},{"p":2064},{"p":2065},{"p":2066},{"p":2067},{"p":2068},{"p":2069},{"p":2070},{"p":2071},{"p":2072},{"p":2073},{"p":2074},{"p":2075},{"p":2076},{"p":2077},{"p":2078},{"p":2079},{"p":2080}],
"flags":[
{"kind":"buying","d":"Tue0510","x0":287.3,"x1":292.7,"lo":2075.39,"hi":2079.71},
{"kind":"selling","d":"Fri0513","x0":570,"x1":576,"lo":2038.9,"hi":2044.05}
],
"stats":[
{"t":25,"p":2062.06,"txt":"Thu0505\nVA 10.5\u00a0\u00a01.2\nV 0.9\n-12\u00a0\u00a0-16661"},
{"t":116,"p":2061.53,"txt":"Fri0506\nVA 13.5\u00a0\u00a01.6\nV 1.2\n+16\u00a0\u00a0+165834"},
{"t":216,"p":2047.41,"txt":"Mon0509\nVA 5.5\u00a0\u00a00.6\nV 0.9\n+18\u00a0\u00a0+173079"},
{"t":306,"p":2059.92,"txt":"Tue0510\nVA 9.1\u00a0\u00a01.1\nV 0.9\n+7\u00a0\u00a0+42187"},
{"t":406,"p":2056.16,"txt":"Wed0511\nVA 12.1\u00a0\u00a01.4\nV\u00a0\u00a01.0\n-8\u00a0\u00a0-40667"},
{"t":502,"p":2047.32,"txt":"Thu0512\nVA 13.7\u00a0\u00a01.5\nV 1.2\n+4\u00a0\u00a0+51309"},
{"t":589,"p":2037.75,"txt":"Fri0513\nVA 16.0\u00a0\u00a01.7\nV 1.2\n-15\u00a0\u00a0-104055"}
],
"notes":[
{"t":24,"p":2073.99,"s":"from pre-open Monday 9th May"},
{"t":41.5,"p":2072.83,"s":"Note the the Support at 2041.00.\u00a0\u00a0So"},
{"t":24,"p":2071.67,"s":"far at least, we have not seen a Value"},
{"t":24,"p":2070.51,"s":"Area generated below that level.\u00a0\u00a0Time"},
{"t":24,"p":2069.35,"s":"printed below 2041 would indicate"},
{"t":24,"p":2068.18,"s":"further weakness.<<"}
],
"legend":[
{"t":310,"p":2038.6,"s":"SP500 emini\u00a0\u00a0(ES)\u00a0\u00a0Jun"},
{"t":310,"p":2037.44,"s":"day session only"},
{"t":349,"p":2036.28,"s":"= significant buying"},
{"t":335,"p":2035.12,"s":"= significant selling"}
],
"legcol":[
{"t":310,"p":2036.28,"s":"green","kind":"buying"},
{"t":310,"p":2035.12,"s":"red","kind":"selling"}
],
"panel":[
{"n":0,"s":"Pre-open Monday 16th May"},
{"n":2,"s":"ES finished the week near the low and during Friday's session again tested the 2041"},
{"n":3,"s":"poc Support. Aggressive Selling (red-at-bottom) was marked but in the longer"},
{"n":4,"s":"timeframe this Selling can be called Reactive because it has only managed to auction"},
{"n":5,"s":"ES back to the poc.\u00a0\u00a0Time printed below that poc (2041) would indicate further"},
{"n":6,"s":"weakness, see last Monday's comments. I remain cautious here especially with the"},
{"n":7,"s":"deterioration in Breadth numbers, see below."},
{"n":9,"s":"First Level Resistance = 2068.00 dashed line (minor 1/2R off April high)"},
{"n":10,"s":"Second Level Resistance = 2086.00 (1mn poc)"},
{"n":11,"s":"First Level Support = 2041.00 (8mn poc)"},
{"n":13,"s":"KEY Chart: The 1/2R off last years high for IWM is at 111.38.\u00a0\u00a0Chart closed below that"},
{"n":14,"s":"level on Friday in a weak price location."},
{"n":16,"s":"Market Charts: Nyse and R2000 stayed positive, Nasdaq turned negative, UK turned"},
{"n":17,"s":"neutral (from negative)."},
{"n":18,"s":"Stocks>50dyma numbers: Nyse 52%, Nasdaq 41%, R2000 47%, UK 44%. Numbers >"},
{"n":19,"s":"50 are supportive."},
{"n":21,"s":"Sentiment: My version of the Rydex Assets Ratio ended the week at 4.05. On 04/26"},
{"n":22,"s":"the ratio reached 5.27 which was the highest level since early January.\u00a0\u00a0On 02/19 the"},
{"n":23,"s":"ratio fell to 2.64 which was the lowest since November 2012."},
{"n":25,"s":"Supporting Charts:"},
{"n":27,"s":"Bonds: TLT. Closed on Friday above 131.82, the 1/2R off this year's high, at its highest"},
{"n":28,"s":"level since early April. The 7mn poc recently migrated to 128.47 and is now Support."},
{"n":29,"s":"Dollar Index: on 05/03\u00a0\u00a0printed its lowest level since Jan 2015 but rallied from there"},
{"n":30,"s":"and on Friday probed 94.79, the 2yr poc Resistance.\u00a0\u00a0Key chart - price above this level"},
{"n":31,"s":"would indicate further strength."},
{"n":32,"s":"Gold: GLD - as long as it holds above the major poc at 118.22 it is in a strong LT price"},
{"n":33,"s":"location.\u00a0\u00a0Cash indicates a higher open today."},
{"n":34,"s":"Oil: is today printing its highest level since November."},
{"n":35,"s":"EURUSD: Support is at 1.1198, the 3yr poc and as long as EURUSD holds this level it is"},
{"n":36,"s":"in a strong price location."}
]
},
"layer":[
{"layer":[
{"data":{"values":[{}]},"mark":{"type":"rect","color":"#c2c2c2"},
 "encoding":{"x":{"datum":690,"type":"quantitative","scale":{"domain":[0,1318],"nice":false,"zero":false}},"x2":{"datum":723},
 "y":{"datum":2032.3,"type":"quantitative","scale":{"domain":[2031.27,2080.16],"nice":false,"zero":false}},"y2":{"datum":2080.16}}},
{"data":{"values":[{}]},"mark":{"type":"rule","color":"#6a6a6a","strokeDash":[1,1],"strokeWidth":1},
 "encoding":{"x":{"datum":690.5,"type":"quantitative","scale":{"domain":[0,1318],"nice":false,"zero":false}},
 "y":{"datum":2032.3,"type":"quantitative","scale":{"domain":[2031.27,2080.16],"nice":false,"zero":false}},"y2":{"datum":2080.16}}},
{"data":{"name":"ticks"},"mark":{"type":"rule","color":"#333333","strokeWidth":1},
 "encoding":{"x":{"datum":691.5,"type":"quantitative","scale":{"domain":[0,1318],"nice":false,"zero":false}},"x2":{"datum":694.5},
 "y":{"field":"p","type":"quantitative","scale":{"domain":[2031.27,2080.16],"nice":false,"zero":false}}}},
{"data":{"name":"ticks"},"mark":{"type":"text","align":"left","baseline":"middle","font":"Liberation Sans","fontSize":11,"color":"#000000"},
 "encoding":{"x":{"datum":698.5,"type":"quantitative","scale":{"domain":[0,1318],"nice":false,"zero":false}},
 "y":{"field":"p","type":"quantitative","scale":{"domain":[2031.27,2080.16],"nice":false,"zero":false}},
 "text":{"field":"p","type":"quantitative","format":"d"}}},
{"data":{"name":"days"},"mark":{"type":"rect","fill":"white","fillOpacity":0,"stroke":"#a8a8a8","strokeWidth":1.5},
 "encoding":{"x":{"field":"x0","type":"quantitative","scale":{"domain":[0,1318],"nice":false,"zero":false}},"x2":{"field":"x1"},
 "y":{"field":"lo","type":"quantitative","scale":{"domain":[2031.27,2080.16],"nice":false,"zero":false}},"y2":{"field":"hi"}}},
{"data":{"name":"prof"},
 "mark":{"type":"rect","yOffset":1.5,"y2Offset":-1.5},
 "encoding":{"x":{"field":"x0","type":"quantitative","scale":{"domain":[0,1318],"nice":false,"zero":false}},"x2":{"field":"x1"},
 "y":{"field":"lo","type":"quantitative","scale":{"domain":[2031.27,2080.16],"nice":false,"zero":false}},"y2":{"field":"hi"},
 "color":{"field":"va","type":"nominal","scale":{"domain":["in","out"],"range":["#7e7ebf","#bcc3cc"]},"legend":null}}},
{"data":{"values":[{}]},"mark":{"type":"rule","color":"#a8a8a8","strokeWidth":1},
 "encoding":{"x":{"datum":6.7,"type":"quantitative","scale":{"domain":[0,1318],"nice":false,"zero":false}},
 "y":{"datum":2039.05,"type":"quantitative","scale":{"domain":[2031.27,2080.16],"nice":false,"zero":false}},"y2":{"datum":2053.5}}},
{"data":{"name":"trace"},"mark":{"type":"line","color":"#000000","opacity":0.37,"strokeWidth":1.3},
 "encoding":{"x":{"field":"x","type":"quantitative","scale":{"domain":[0,1318],"nice":false,"zero":false}},
 "y":{"field":"p","type":"quantitative","scale":{"domain":[2031.27,2080.16],"nice":false,"zero":false}},
 "detail":{"field":"d","type":"nominal"}}},
{"data":{"name":"days"},"mark":{"type":"rule","color":"#ff0000","strokeWidth":1.5},
 "encoding":{"x":{"field":"x0","type":"quantitative","scale":{"domain":[0,1318],"nice":false,"zero":false}},"x2":{"field":"pocx"},
 "y":{"field":"poc","type":"quantitative","scale":{"domain":[2031.27,2080.16],"nice":false,"zero":false}}}},
{"data":{"name":"flags"},"mark":{"type":"rect"},
 "encoding":{"x":{"field":"x0","type":"quantitative","scale":{"domain":[0,1318],"nice":false,"zero":false}},"x2":{"field":"x1"},
 "y":{"field":"lo","type":"quantitative","scale":{"domain":[2031.27,2080.16],"nice":false,"zero":false}},"y2":{"field":"hi"},
 "color":{"field":"kind","type":"nominal","scale":{"domain":["buying","selling"],"range":["#80ff00","#ff0000"]},"legend":null}}},
{"data":{"values":[{}]},"mark":{"type":"rule","color":"#ffad5c","strokeWidth":3.5,"opacity":0.85},
 "encoding":{"x":{"datum":4,"type":"quantitative","scale":{"domain":[0,1318],"nice":false,"zero":false}},"x2":{"datum":691},
 "y":{"datum":2041,"type":"quantitative","scale":{"domain":[2031.27,2080.16],"nice":false,"zero":false}}}},
{"data":{"values":[{}]},"mark":{"type":"rule","color":"#7a7a7a","strokeWidth":2,"strokeDash":[7,3]},
 "encoding":{"x":{"datum":480,"type":"quantitative","scale":{"domain":[0,1318],"nice":false,"zero":false}},"x2":{"datum":690},
 "y":{"datum":2068,"type":"quantitative","scale":{"domain":[2031.27,2080.16],"nice":false,"zero":false}}}},
{"data":{"name":"stats"},"mark":{"type":"text","align":"left","baseline":"top","font":"Liberation Sans","fontSize":11,"lineHeight":15,"lineBreak":"\n","color":"#000000"},
 "encoding":{"x":{"field":"t","type":"quantitative","scale":{"domain":[0,1318],"nice":false,"zero":false}},
 "y":{"field":"p","type":"quantitative","scale":{"domain":[2031.27,2080.16],"nice":false,"zero":false}},
 "text":{"field":"txt"}}},
{"data":{"name":"notes"},"mark":{"type":"text","align":"left","baseline":"middle","font":"DejaVu Sans","fontStyle":"italic","fontSize":11.4,"color":"#111111"},
 "encoding":{"x":{"field":"t","type":"quantitative","scale":{"domain":[0,1318],"nice":false,"zero":false}},
 "y":{"field":"p","type":"quantitative","scale":{"domain":[2031.27,2080.16],"nice":false,"zero":false}},
 "text":{"field":"s"}}},
{"data":{"values":[{}]},"mark":{"type":"text","align":"left","baseline":"middle","font":"DejaVu Sans","fontWeight":"bold","fontSize":11,"color":"#111111"},
 "encoding":{"x":{"datum":24,"type":"quantitative","scale":{"domain":[0,1318],"nice":false,"zero":false}},
 "y":{"datum":2072.83,"type":"quantitative","scale":{"domain":[2031.27,2080.16],"nice":false,"zero":false}},
 "text":{"value":">>"}}},
{"data":{"name":"legend"},"mark":{"type":"text","align":"left","baseline":"middle","font":"DejaVu Sans","fontSize":11.7,"color":"#000000"},
 "encoding":{"x":{"field":"t","type":"quantitative","scale":{"domain":[0,1318],"nice":false,"zero":false}},
 "y":{"field":"p","type":"quantitative","scale":{"domain":[2031.27,2080.16],"nice":false,"zero":false}},
 "text":{"field":"s"}}},
{"data":{"name":"legcol"},"mark":{"type":"text","align":"left","baseline":"middle","font":"DejaVu Sans","fontSize":11.7},
 "encoding":{"x":{"field":"t","type":"quantitative","scale":{"domain":[0,1318],"nice":false,"zero":false}},
 "y":{"field":"p","type":"quantitative","scale":{"domain":[2031.27,2080.16],"nice":false,"zero":false}},
 "text":{"field":"s"},
 "color":{"field":"kind","type":"nominal","scale":{"domain":["buying","selling"],"range":["#2cff2c","#ff0000"]},"legend":null}}}
],
 "resolve":{"scale":{"color":"independent"}}},
{"layer":[
{"data":{"values":[{}]},"mark":{"type":"rect","color":"#ffd391"},
 "encoding":{"x":{"datum":855,"type":"quantitative","scale":{"domain":[0,1318],"nice":false,"zero":false}},"x2":{"datum":902},
 "y":{"datum":10.55,"type":"quantitative","scale":{"domain":[-0.807,38.264],"nice":false,"zero":false,"reverse":true}},"y2":{"datum":11.45}}},
{"data":{"name":"panel"},"transform":[{"filter":"datum.n == 0"}],
 "mark":{"type":"text","align":"left","baseline":"middle","font":"Liberation Sans","fontSize":12.25,"fontWeight":"bold","color":"#000000"},
 "encoding":{"x":{"datum":738,"type":"quantitative","scale":{"domain":[0,1318],"nice":false,"zero":false}},
 "y":{"field":"n","type":"quantitative","scale":{"domain":[-0.807,38.264],"nice":false,"zero":false,"reverse":true}},
 "text":{"field":"s"}}},
{"data":{"name":"panel"},"transform":[{"filter":"datum.n > 0"}],
 "mark":{"type":"text","align":"left","baseline":"middle","font":"Liberation Sans","fontSize":12.35,"color":"#000000"},
 "encoding":{"x":{"datum":738,"type":"quantitative","scale":{"domain":[0,1318],"nice":false,"zero":false}},
 "y":{"field":"n","type":"quantitative","scale":{"domain":[-0.807,38.264],"nice":false,"zero":false,"reverse":true}},
 "text":{"field":"s"}}}
]}
],
"resolve":{"scale":{"y":"independent"}}
}
